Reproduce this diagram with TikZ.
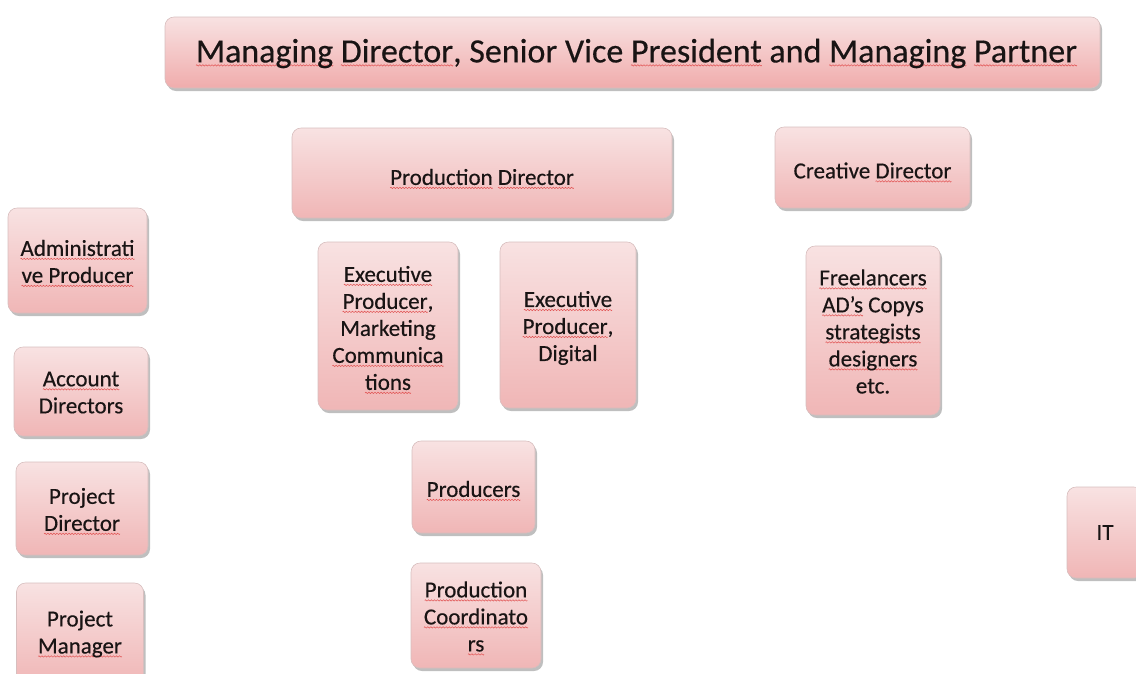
\documentclass[tikz,border=0pt]{standalone}
\usepackage{fontspec}
\setmainfont{Carlito}
\newfontfamily\roleface{Carlito}[FakeBold=0.4]
\usetikzlibrary{shadows}

\definecolor{sqred}{RGB}{225,80,80}
\definecolor{boxtop}{RGB}{248,226,226}
\definecolor{boxbot}{RGB}{240,182,182}
\definecolor{headbot}{RGB}{240,172,172}
\definecolor{boxline}{RGB}{215,190,190}
\definecolor{ink}{RGB}{25,20,20}

% red wavy spell-check underline, built from one saved wave period
\newsavebox\wavebox
\newcommand\sq[1]{\setbox0\hbox{#1}%
  \rlap{\raisebox{-4pt}[0pt][0pt]{\hbox to \wd0{\xleaders\copy\wavebox\hfil}}}\box0\relax}

\tikzset{
  role/.style={rounded corners=9pt, draw=boxline, line width=0.6pt,
    top color=boxtop, bottom color=boxbot, inner sep=0pt,
    drop shadow={shadow xshift=2pt, shadow yshift=-3pt, opacity=0.25, fill=black}},
  head/.style={role, bottom color=headbot},
  rtext/.style={inner sep=0pt, align=center, text=ink,
    font=\roleface\fontsize{23}{27}\selectfont},
  htext/.style={rtext, font=\roleface\fontsize{34}{40}\selectfont}
}

\begin{document}
\sbox\wavebox{\begin{pgfpicture}%
  \pgfsetcolor{sqred}\pgfsetlinewidth{0.5pt}%
  \pgfpathmoveto{\pgfpoint{0pt}{0pt}}%
  \pgfpathsine{\pgfpoint{0.75pt}{0.7pt}}%
  \pgfpathcosine{\pgfpoint{0.75pt}{-0.7pt}}%
  \pgfpathsine{\pgfpoint{0.75pt}{-0.7pt}}%
  \pgfpathcosine{\pgfpoint{0.75pt}{0.7pt}}%
  \pgfusepath{stroke}%
  \pgfresetboundingbox
  \pgfpathrectanglecorners{\pgfpoint{0pt}{-1pt}}{\pgfpoint{3pt}{1pt}}%
  \pgfusepath{use as bounding box}%
\end{pgfpicture}}%
\begin{tikzpicture}[x=1pt,y=-1pt]
\useasboundingbox (0,0) rectangle (1136,673);
\clip (0,0) rectangle (1136,673);

% boxes
\node[head, minimum width=935pt, minimum height=71pt] (md) at (632.5,52.5) {};
\node[role, minimum width=380pt, minimum height=90pt] (pd) at (482,173) {};
\node[role, minimum width=195pt, minimum height=81pt] (cd) at (872.5,167.5) {};
\node[role, minimum width=139pt, minimum height=105pt] (ap) at (77.5,260.5) {};
\node[role, minimum width=134pt, minimum height=89pt] (ad) at (81,391.5) {};
\node[role, minimum width=132pt, minimum height=93pt] (pj) at (82,508.5) {};
\node[role, minimum width=127pt, minimum height=102pt] (pm) at (80,634) {};
\node[role, minimum width=140pt, minimum height=168pt] (epm) at (388,326) {};
\node[role, minimum width=136pt, minimum height=166pt] (epd) at (568,325) {};
\node[role, minimum width=134pt, minimum height=169pt] (fl) at (873,330.5) {};
\node[role, minimum width=123pt, minimum height=92pt] (pr) at (473.5,487) {};
\node[role, minimum width=130pt, minimum height=105pt] (pc) at (476,615.5) {};
\node[role, minimum width=76pt, minimum height=91pt] (it) at (1105,532.5) {};

% labels
\node[htext] (md-t) at ([xshift=4pt,yshift=-1pt]md.center)
  {\sq{Managing} \sq{Director}, Senior Vice \sq{President} and \sq{Managing} \sq{Partner}};
\node[rtext] (pd-t) at ([yshift=-4pt]pd.center) {\sq{Production} \sq{Director}};
\node[rtext] (cd-t) at ([yshift=-3pt]cd.center) {Creative \sq{Director}};
\node[rtext] (ap-t) at ([yshift=-1pt]ap.center) {\sq{Administrati}\\\sq{ve Producer}};
\node[rtext] (ad-t) at ([yshift=-1pt]ad.center) {\sq{Account}\\Directors};
\node[rtext] (pj-t) at ([yshift=-1pt]pj.center) {Project\\\sq{Director}};
\node[rtext] (pm-t) at (pm.center) {Project\\\sq{Manager}};
\node[rtext] (epm-t) at ([yshift=-2pt]epm.center)
  {\sq{Executive}\\\sq{Producer},\\Marketing\\\sq{Communica}\\\sq{tions}};
\node[rtext] (epd-t) at ([yshift=-3pt]epd.center) {\sq{Executive}\\\sq{Producer},\\Digital};
\node[rtext] (fl-t) at ([yshift=-1pt]fl.center)
  {\sq{Freelancers}\\\sq{AD’s} Copys\\\sq{strategists}\\\sq{designers}\\etc.};
\node[rtext] (pr-t) at ([yshift=-2pt]pr.center) {\sq{Producers}};
\node[rtext] (pc-t) at ([yshift=-1pt]pc.center) {\sq{Production}\\\sq{Coordinato}\\\sq{rs}};
\node[rtext] (it-t) at (it.center) {IT};
\end{tikzpicture}
\end{document}
